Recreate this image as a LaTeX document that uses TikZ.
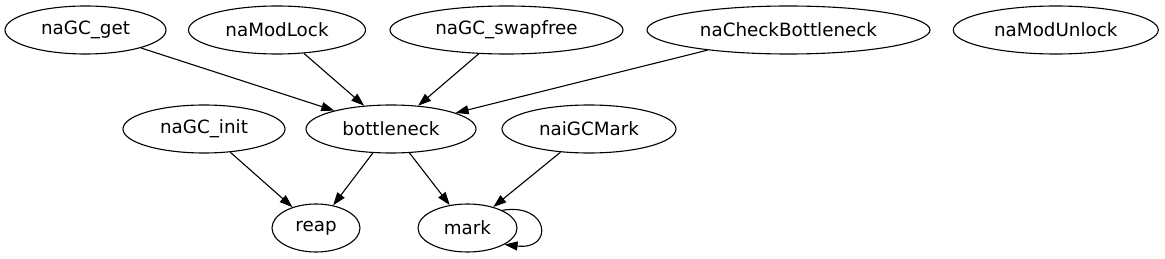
\documentclass[tikz,border=0pt]{standalone}
\usepackage{fontspec}
\setmainfont{DejaVu Sans}
\usetikzlibrary{arrows.meta,shapes.geometric}
\begin{document}
\begin{tikzpicture}[x=1pt,y=-1pt,
  gnode/.style={ellipse,draw,line width=1.1pt,inner sep=0pt,minimum height=48pt,font=\fontsize{18.3}{22}\selectfont},
  edge/.style={line width=1.1pt,-{Triangle[length=13pt,width=9pt]}}]
\useasboundingbox (0,0) rectangle (1165,259);
\node[gnode,minimum width=161pt] (get) at (85.5,30) {naGC\_get};
\node[gnode,minimum width=177pt] (lock) at (277,30) {naModLock};
\node[gnode,minimum width=233pt] (swap) at (506.5,30) {naGC\_swapfree};
\node[gnode,minimum width=283pt] (check) at (788.5,30) {naCheckBottleneck};
\node[gnode,minimum width=205pt] (unlock) at (1055.8,30) {naModUnlock};
\node[gnode,minimum width=162pt] (init) at (204,129) {naGC\_init};
\node[gnode,minimum width=170pt] (bott) at (391,129) {bottleneck};
\node[gnode,minimum width=174pt] (igc) at (589,129) {naiGCMark};
\node[gnode,minimum width=88pt] (reap) at (316,228) {reap};
\node[gnode,minimum width=99pt] (mark) at (467.5,228) {mark};
\draw[edge] (get) -- (bott);
\draw[edge] (lock) -- (bott);
\draw[edge] (swap) -- (bott);
\draw[edge] (check) -- (bott);
\draw[edge] (init) -- (reap);
\draw[edge] (bott) -- (reap);
\draw[edge] (bott) -- (mark);
\draw[edge] (igc) -- (mark);
\draw[edge] (mark.27) .. controls +(47,-8) and +(50,6) .. (mark.-24);
\end{tikzpicture}
\end{document}
